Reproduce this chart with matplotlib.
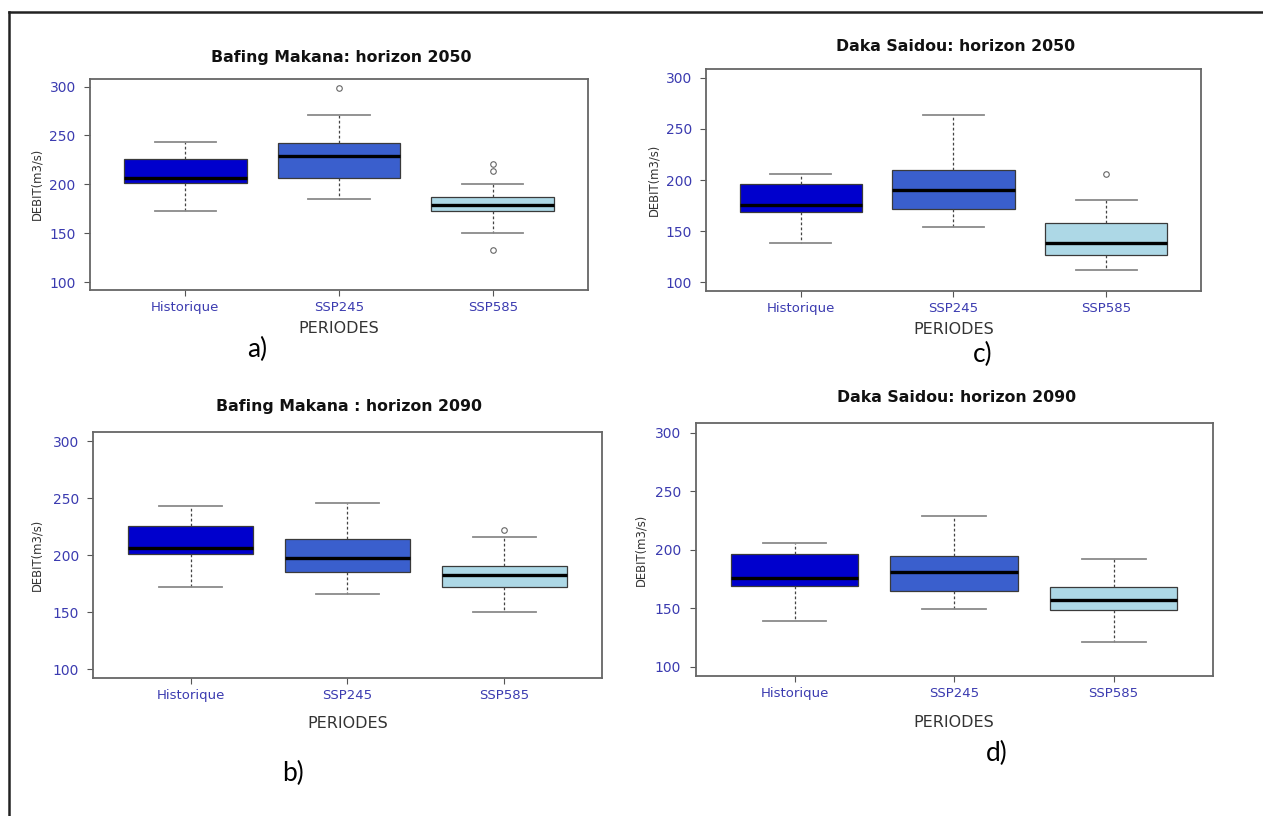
import matplotlib
matplotlib.use("Agg")
import matplotlib.pyplot as plt
from matplotlib.lines import Line2D

# ---- data (m3/s) -------------------------------------------------------
periods = ["Historique", "SSP245", "SSP585"]
box_colors = ["#0000CD", "#3A5FCD", "#ADD8E6"]

# Bafing Makana, horizon 2050: [whisker low, Q1, median, Q3, whisker high]
bm2050_hist = [172.4, 201.0, 206.3, 225.5, 243.7]
bm2050_ssp245 = [184.6, 206.8, 229.0, 242.0, 271.3]
bm2050_ssp585 = [149.8, 172.4, 179.2, 187.4, 200.0]
bm2050_out = [[], [298.6], [221.0, 213.3, 133.4]]

# Bafing Makana, horizon 2090
bm2090_hist = [172.4, 201.0, 206.3, 225.5, 243.7]
bm2090_ssp245 = [166.0, 185.3, 197.4, 214.7, 246.3]
bm2090_ssp585 = [150.1, 171.8, 182.4, 190.6, 216.4]
bm2090_out = [[], [], [222.0]]

# Daka Saidou, horizon 2050
ds2050_hist = [138.9, 169.0, 176.0, 196.2, 206.1]
ds2050_ssp245 = [153.7, 171.3, 189.9, 209.8, 263.8]
ds2050_ssp585 = [112.0, 126.4, 138.1, 157.7, 180.5]
ds2050_out = [[], [], [206.2]]

# Daka Saidou, horizon 2090
ds2090_hist = [138.9, 169.0, 176.0, 196.2, 206.1]
ds2090_ssp245 = [149.6, 164.7, 181.2, 194.3, 228.8]
ds2090_ssp585 = [121.1, 148.4, 157.0, 168.1, 192.0]
ds2090_out = [[], [], []]

y_ticks = [100, 150, 200, 250, 300]

W, H = 1263, 816
fig = plt.figure(figsize=(W / 100, H / 100), dpi=100)
fig.patch.set_facecolor("white")

TICK_COLOR = "#3b3bb0"
TEXT_COLOR = "#333333"


def px_axes(left, right, top, bottom):
    return fig.add_axes([left / W, 1 - bottom / H, (right - left) / W, (bottom - top) / H])


def ftext(x, y, s, **kw):
    fig.text(x / W, 1 - y / H, s, **kw)


def make_stats(rows, outliers):
    stats = []
    for (lo, q1, med, q3, hi), fl in zip(rows, outliers):
        stats.append(dict(whislo=lo, q1=q1, med=med, q3=q3, whishi=hi, fliers=fl))
    return stats


panels = [
    # title, rows, outliers, axes box (l, r, t, b), title y, ylabel x, xlabel y, tag, tag pos
    ("Bafing Makana: horizon 2050", [bm2050_hist, bm2050_ssp245, bm2050_ssp585], bm2050_out,
     (90, 588, 78.7, 290), 57.3, 37, 328.3, "a)", (257, 349)),
    ("Daka Saidou: horizon 2050", [ds2050_hist, ds2050_ssp245, ds2050_ssp585], ds2050_out,
     (706.4, 1200.6, 69.3, 290.7), 46.7, 654, 330, "c)", (983, 354)),
    ("Bafing Makana : horizon 2090", [bm2090_hist, bm2090_ssp245, bm2090_ssp585], bm2090_out,
     (93.2, 601.8, 432.3, 678.3), 406.7, 37, 723.3, "b)", (293, 773)),
    ("Daka Saidou: horizon 2090", [ds2090_hist, ds2090_ssp245, ds2090_ssp585], ds2090_out,
     (695.6, 1212.6, 423.3, 676.3), 397.3, 640.5, 722.7, "d)", (997, 753)),
]

for title, rows, outs, (l, r, t, b), ty, ylx, xly, tag, (tgx, tgy) in panels:
    ax = px_axes(l, r, t, b)
    bp = ax.bxp(
        make_stats(rows, outs),
        positions=[1, 2, 3],
        widths=0.8,
        capwidths=0.4,
        patch_artist=True,
        showfliers=True,
        boxprops=dict(edgecolor="#3a3a3a", linewidth=0.9),
        medianprops=dict(color="black", linewidth=2.4, solid_capstyle="butt"),
        whiskerprops=dict(color="#444444", linewidth=0.9, linestyle=(0, (2.2, 1.8))),
        capprops=dict(color="#8a8a8a", linewidth=1.3),
        flierprops=dict(marker="o", markersize=4, markerfacecolor="none",
                        markeredgecolor="#666666", markeredgewidth=0.8),
    )
    for patch, c in zip(bp["boxes"], box_colors):
        patch.set_facecolor(c)

    ax.set_xlim(0.38, 3.62)
    ax.set_ylim(92, 308)
    ax.set_yticks(y_ticks)
    ax.set_yticklabels([str(v) for v in y_ticks])
    ax.set_xticks([1, 2, 3])
    ax.set_xticklabels(periods)
    ax.tick_params(axis="y", colors="#555555", labelcolor=TICK_COLOR, labelsize=10,
                   length=4.3, width=0.8, pad=6)
    ax.tick_params(axis="x", colors="#555555", labelcolor=TICK_COLOR, labelsize=9.5,
                   length=4, width=0.8, pad=4)
    for sp in ax.spines.values():
        sp.set_color("#666666")
        sp.set_linewidth(1.3)

    cx = (l + r) / 2
    ftext(cx + 2, ty, title, ha="center", va="center", fontsize=11.3,
          fontweight="bold", color="#111111")
    ftext(cx, xly, "PERIODES", ha="center", va="center", fontsize=11.5, color=TEXT_COLOR)
    ftext(ylx, (t + b) / 2, "DEBIT(m3/s)", ha="center", va="center", rotation=90,
          fontsize=8.4, color=TEXT_COLOR)
    ftext(tgx, tgy, tag, ha="center", va="center", fontsize=19, color="black",
          family=["Lato", "DejaVu Sans"])

# outer frame (left and top edges)
fig.add_artist(Line2D([9 / W, 9 / W], [0, 1 - 12 / H], transform=fig.transFigure,
                      color="#222222", linewidth=1.8))
fig.add_artist(Line2D([9 / W, 1], [1 - 12 / H, 1 - 12 / H], transform=fig.transFigure,
                      color="#222222", linewidth=1.8))

fig.savefig("out.png", dpi=100, facecolor="white")
